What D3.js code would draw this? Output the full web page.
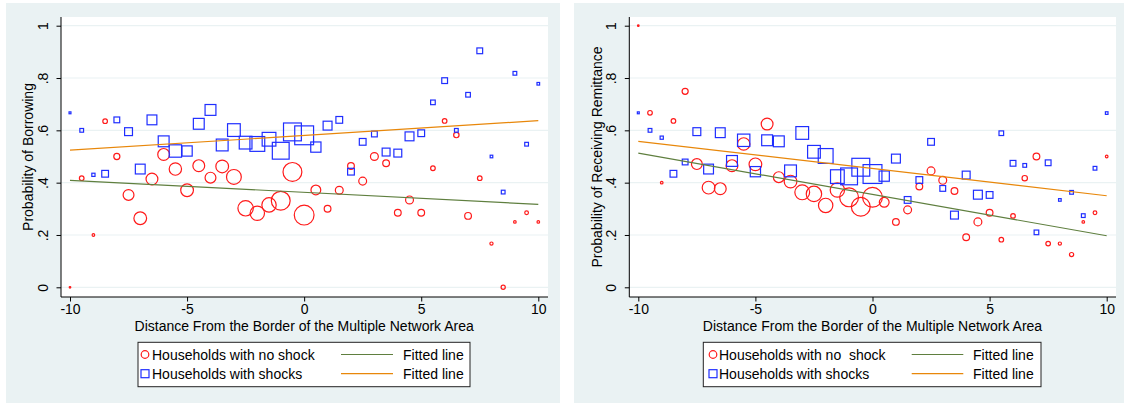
<!DOCTYPE html>
<html>
<head>
<meta charset="utf-8">
<script src="https://cdn.jsdelivr.net/npm/d3@7"></script>
<style>
  html, body { margin: 0; padding: 0; background: #fff; }
  svg { display: block; font-family: 'Liberation Sans', Arial, sans-serif; }
</style>
</head>
<body>
<div id="svg-container"></div>
<script>
// Data (bins of 0.5 km around the border)
const distance = [-10, -9.5, -9, -8.5, -8, -7.5, -7, -6.5, -6, -5.5, -5, -4.5, -4, -3.5, -3, -2.5, -2, -1.5, -1, -0.5,
  0, 0.5, 1, 1.5, 2, 2.5, 3, 3.5, 4, 4.5, 5, 5.5, 6, 6.5, 7, 7.5, 8, 8.5, 9, 9.5, 10]

// household counts per bin (marker weights)
const nNoShock = [1, 7, 3, 7, 11, 30, 40, 35, 35, 38, 40, 35, 30, 40, 53, 57, 50, 50, 83, 83,
  91, 25, 13, 17, 13, 17, 17, 13, 13, 17, 13, 7, 7, 9, 13, 7, 4, 6, 3, 5, 3]
const nShock = [2, 5, 4, 13, 10, 17, 25, 25, 30, 38, 27, 30, 30, 35, 40, 40, 53, 46, 67, 75,
  83, 27, 21, 13, 13, 13, 10, 17, 17, 21, 13, 7, 10, 5, 7, 10, 3, 5, 5, 5, 3]

// Probability of Borrowing
const borrowNoShock = [0, 0.417, 0.2, 0.635, 0.5, 0.353, 0.264, 0.414, 0.508, 0.452, 0.371, 0.465, 0.419, 0.462, 0.422, 0.302, 0.283, 0.315, 0.331, 0.441,
  0.276, 0.372, 0.3, 0.371, 0.464, 0.406, 0.5, 0.474, 0.285, 0.334, 0.285, 0.455, 0.636, 0.582, 0.273, 0.417, 0.167, 0, 0.25, 0.285, 0.25]
const borrowShock = [0.667, 0.6, 0.43, 0.434, 0.64, 0.595, 0.452, 0.64, 0.558, 0.521, 0.521, 0.625, 0.678, 0.544, 0.601, 0.553, 0.548, 0.566, 0.522, 0.594,
  0.581, 0.536, 0.618, 0.64, 0.442, 0.556, 0.586, 0.517, 0.513, 0.577, 0.589, 0.707, 0.79, 0.6, 0.736, 0.904, 0.5, 0.364, 0.818, 0.547, 0.778]

// Probability of Receiving Remittance
const remitNoShock = [1, 0.667, 0.4, 0.636, 0.749, 0.471, 0.381, 0.377, 0.465, 0.548, 0.47, 0.624, 0.421, 0.404, 0.363, 0.357, 0.313, 0.372, 0.344, 0.308,
  0.344, 0.325, 0.25, 0.296, 0.385, 0.445, 0.409, 0.368, 0.191, 0.25, 0.285, 0.182, 0.273, 0.417, 0.5, 0.167, 0.167, 0.125, 0.25, 0.285, 0.5]
const remitShock = [0.667, 0.6, 0.572, 0.434, 0.479, 0.595, 0.452, 0.591, 0.483, 0.562, 0.442, 0.562, 0.558, 0.445, 0.59, 0.518, 0.502, 0.423, 0.424, 0.459,
  0.433, 0.425, 0.492, 0.334, 0.41, 0.556, 0.378, 0.276, 0.429, 0.354, 0.353, 0.589, 0.474, 0.466, 0.21, 0.476, 0.334, 0.363, 0.274, 0.455, 0.666]

// fitted lines, values at the two ends
const fitX = [-10, 10]
const borrowFitNoShock = [0.409, 0.317]
const borrowFitShock = [0.524, 0.637]
const remitFitNoShock = [0.513, 0.197]
const remitFitShock = [0.558, 0.35]

const yTicks = [0, 0.2, 0.4, 0.6, 0.8, 1]
const yTickLabels = ['0', '.2', '.4', '.6', '.8', '1']
const xTicks = [-10, -5, 0, 5, 10]
const xTitle = 'Distance From the Border of the Multiple Network Area'

const bgColor = '#eaf2f3'
const red = '#ff1a1a'
const blue = '#1f2eff'
const green = '#5f7f3f'
const orange = '#e8870a'
const fontSize = 14

const svg = d3.select('#svg-container')
  .append('svg')
  .attr('width', 1124)
  .attr('height', 405)
  .attr('viewBox', '0 0 1124 405')

// marker size: diameter / side grows with sqrt of count
const sizeScale = d3.scaleSqrt().domain([0, 100]).range([0, 22])

const panels = [
  {
    bg: [6, 3, 554, 400],
    plot: [61, 17, 548, 297],
    xRange: [70, 538.3],
    ytitle: 'Probability of Borrowing',
    ytitleX: 28,
    noShock: borrowNoShock, shock: borrowShock,
    fitNo: borrowFitNoShock, fitSh: borrowFitShock,
    legend: { x: 138, y: 342.3, w: 332, h: 44.4, mx: 145, tx: 152, lx0: 341, lx1: 393, fx: 403 },
    noLabel: 'Households with no shock',
  },
  {
    bg: [574, 3, 550, 400],
    plot: [629.3, 17, 1116, 297],
    xRange: [638.3, 1106.7],
    ytitle: 'Probability of Receiving Remittance',
    ytitleX: 597,
    noShock: remitNoShock, shock: remitShock,
    fitNo: remitFitNoShock, fitSh: remitFitShock,
    legend: { x: 703.3, y: 342.3, w: 337.7, h: 44.4, mx: 713, tx: 719, lx0: 911.7, lx1: 963.3, fx: 973 },
    noLabel: 'Households with no  shock',
  },
]

panels.forEach(p => {
  const [px0, py0, px1, py1] = p.plot
  const g = svg.append('g')

  g.append('rect')
    .attr('x', p.bg[0]).attr('y', p.bg[1])
    .attr('width', p.bg[2]).attr('height', p.bg[3])
    .attr('fill', bgColor)

  g.append('rect')
    .attr('x', px0).attr('y', py0)
    .attr('width', px1 - px0).attr('height', py1 - py0)
    .attr('fill', '#fff')

  const xScale = d3.scaleLinear().domain([-10, 10]).range(p.xRange)
  const yScale = d3.scaleLinear().domain([0, 1]).range([287.3, 25.7])

  // gridlines
  g.append('g')
    .selectAll('line')
    .data(yTicks)
    .join('line')
    .attr('x1', px0).attr('x2', px1)
    .attr('y1', d => yScale(d)).attr('y2', d => yScale(d))
    .attr('stroke', bgColor)
    .attr('stroke-width', 1.2)

  // markers: circles (no shock) then squares (shocks)
  g.append('g')
    .selectAll('circle')
    .data(distance.map((d, i) => ({ d, v: p.noShock[i], n: nNoShock[i] })))
    .join('circle')
    .attr('cx', d => xScale(d.d))
    .attr('cy', d => yScale(d.v))
    .attr('r', d => Math.max(sizeScale(d.n) / 2 - 0.6, 0.8))
    .attr('fill', d => (d.n <= 1 ? red : 'none'))
    .attr('stroke', red)
    .attr('stroke-width', 1.2)

  g.append('g')
    .selectAll('rect')
    .data(distance.map((d, i) => ({ d, v: p.shock[i], n: nShock[i] })))
    .join('rect')
    .attr('x', d => xScale(d.d) - (sizeScale(d.n) - 1.2) / 2)
    .attr('y', d => yScale(d.v) - (sizeScale(d.n) - 1.2) / 2)
    .attr('width', d => sizeScale(d.n) - 1.2)
    .attr('height', d => sizeScale(d.n) - 1.2)
    .attr('fill', 'none')
    .attr('stroke', blue)
    .attr('stroke-width', 1.2)

  // fitted lines
  const line = d3.line().x(d => xScale(d[0])).y(d => yScale(d[1]))
  g.append('path')
    .datum(fitX.map((x, i) => [x, p.fitNo[i]]))
    .attr('d', line)
    .attr('fill', 'none').attr('stroke', green).attr('stroke-width', 1.2)
  g.append('path')
    .datum(fitX.map((x, i) => [x, p.fitSh[i]]))
    .attr('d', line)
    .attr('fill', 'none').attr('stroke', orange).attr('stroke-width', 1.2)

  // y axis
  const yAxis = g.append('g')
    .attr('transform', `translate(${px0},0)`)
    .call(d3.axisLeft(yScale).tickValues(yTicks).tickFormat((d, i) => yTickLabels[i]).tickSize(4.5).tickSizeOuter(0))
  yAxis.select('.domain').remove()
  yAxis.selectAll('line').attr('stroke', '#000')
  yAxis.selectAll('text')
    .attr('x', 0)
    .attr('dy', '0.35em')
    .attr('transform', 'translate(-18,0) rotate(-90)')
    .attr('text-anchor', 'middle')
    .attr('font-size', fontSize)
    .attr('font-family', "'Liberation Sans', Arial, sans-serif")
    .attr('fill', '#000')
  g.append('line')
    .attr('x1', px0).attr('x2', px0).attr('y1', py0).attr('y2', py1)
    .attr('stroke', '#000').attr('stroke-width', 1)

  // x axis
  const xAxis = g.append('g')
    .attr('transform', `translate(0,${py1})`)
    .call(d3.axisBottom(xScale).tickValues(xTicks).tickFormat(d3.format('d')).tickSize(4.5).tickSizeOuter(0))
  xAxis.select('.domain').remove()
  xAxis.selectAll('line').attr('stroke', '#000')
  xAxis.selectAll('text')
    .attr('y', 7.5)
    .attr('font-size', fontSize)
    .attr('font-family', "'Liberation Sans', Arial, sans-serif")
    .attr('fill', '#000')
    .text(d => (d < 0 ? '-' + Math.abs(d) : d))
  g.append('line')
    .attr('x1', px0).attr('x2', px1).attr('y1', py1).attr('y2', py1)
    .attr('stroke', '#000').attr('stroke-width', 1)

  g.append('text')
    .attr('x', xScale(0))
    .attr('y', 330.5)
    .attr('text-anchor', 'middle')
    .attr('font-size', fontSize)
    .text(xTitle)

  g.append('text')
    .attr('transform', `translate(${p.ytitleX},${(py0 + py1) / 2}) rotate(-90)`)
    .attr('dy', '0.35em')
    .attr('text-anchor', 'middle')
    .attr('font-size', fontSize)
    .text(p.ytitle)

  // legend
  const L = p.legend
  const lg = g.append('g')
  lg.append('rect')
    .attr('x', L.x).attr('y', L.y).attr('width', L.w).attr('height', L.h)
    .attr('fill', '#fff').attr('stroke', '#222').attr('stroke-width', 1)
  const row1 = L.y + 12.2
  const row2 = L.y + 31.4
  lg.append('circle')
    .attr('cx', L.mx).attr('cy', row1).attr('r', 3.8)
    .attr('fill', 'none').attr('stroke', red).attr('stroke-width', 1.2)
  lg.append('rect')
    .attr('x', L.mx - 4).attr('y', row2 - 4).attr('width', 8).attr('height', 8)
    .attr('fill', 'none').attr('stroke', blue).attr('stroke-width', 1.2)
  lg.append('text').attr('x', L.tx).attr('y', row1 + 5)
    .attr('font-size', fontSize).style('white-space', 'pre').text(p.noLabel)
  lg.append('text').attr('x', L.tx).attr('y', row2 + 5)
    .attr('font-size', fontSize).text('Households with shocks')
  lg.append('line')
    .attr('x1', L.lx0).attr('x2', L.lx1).attr('y1', row1).attr('y2', row1)
    .attr('stroke', green).attr('stroke-width', 1.2)
  lg.append('line')
    .attr('x1', L.lx0).attr('x2', L.lx1).attr('y1', row2).attr('y2', row2)
    .attr('stroke', orange).attr('stroke-width', 1.2)
  lg.append('text').attr('x', L.fx).attr('y', row1 + 5)
    .attr('font-size', fontSize).text('Fitted line')
  lg.append('text').attr('x', L.fx).attr('y', row2 + 5)
    .attr('font-size', fontSize).text('Fitted line')
})
</script>
</body>
</html>
